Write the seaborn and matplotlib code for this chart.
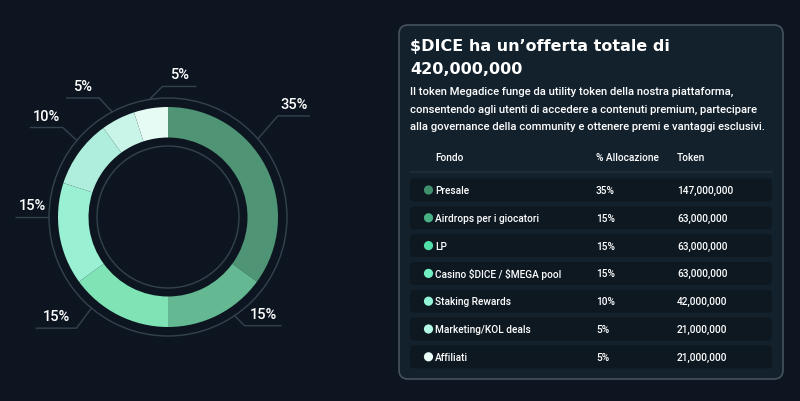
import numpy as np
import matplotlib
matplotlib.use("Agg")
import matplotlib.pyplot as plt
from matplotlib.patches import FancyBboxPatch, Circle
import seaborn as sns

# ---------------- data ----------------
fund_names = ["Presale", "Airdrops per i giocatori", "LP", "Casino $DICE / $MEGA pool",
              "Staking Rewards", "Marketing/KOL deals", "Affiliati"]
alloc_pct = [35, 15, 15, 15, 10, 5, 5]
token_amounts = ["147,000,000", "63,000,000", "63,000,000", "63,000,000",
                 "42,000,000", "21,000,000", "21,000,000"]
ring_colors = ["#4f9474", "#64b993", "#7fe3b6", "#9af0d2", "#afeedc", "#c8f5e8", "#e6fbf4"]
dot_colors = ["#3f8f6d", "#47b085", "#52e0aa", "#72f0c3", "#92f5d7", "#b3f8e4", "#eafdf6"]
title_lines = ["$DICE ha un\u2019offerta totale di", "420,000,000"]
body_lines = ["Il token Megadice funge da utility token della nostra piattaforma,",
              "consentendo agli utenti di accedere a contenuti premium, partecipare",
              "alla governance della community e ottenere premi e vantaggi esclusivi."]
header_labels = ["Fondo", "% Allocazione", "Token"]

# ---------------- style ----------------
sns.set_theme(style="dark")
plt.rcParams["font.family"] = ["Roboto", "DejaVu Sans"]
plt.rcParams["text.parse_math"] = False
BG = "#0d1620"
PANEL = "#13212d"
ROW = "#0d1821"
LINE = "#34424f"
W, H = 800, 402

fig = plt.figure(figsize=(8, 4.02), dpi=100, facecolor=BG)
ax = fig.add_axes([0, 0, 1, 1])
ax.set_facecolor(BG)

def Y(y):
    return H - y

# ---------------- donut ----------------
cx, cy = 168, Y(218)
r_out, r_in = 110, 79.5
wedges, _ = ax.pie(alloc_pct, colors=ring_colors, startangle=90, counterclock=False,
                   center=(cx, cy), radius=r_out, frame=True,
                   wedgeprops=dict(width=r_out - r_in, edgecolor="none", linewidth=0))
ax.set_xlim(0, W)
ax.set_ylim(0, H)
ax.set_aspect("equal")
ax.axis("off")
for rr in (119, 71):
    ax.add_patch(Circle((cx, cy), rr, fill=False, edgecolor=LINE, linewidth=1.0, zorder=3))

# leader lines and labels (layout only)
angle_nudge = [-14, -7, 13, 9, 4, -1, 0]          # degrees, clockwise from top
elbow_off = [(20, 23), (10, -10), (-15, -20), (0, 0), (-14, 13), (-13, 14), (13, 13)]
side = [1, 1, -1, -1, -1, -1, 1]
hlen = [32, 37, 41, 34, 33, 33, 34]
for i, (w, p) in enumerate(zip(wedges, alloc_pct)):
    mid = (w.theta1 + w.theta2) / 2.0
    ang = np.deg2rad(mid - angle_nudge[i])
    x0, y0 = cx + 119 * np.cos(ang), cy + 119 * np.sin(ang)
    x1, y1 = x0 + elbow_off[i][0], y0 + elbow_off[i][1]
    x2 = x1 + side[i] * hlen[i]
    ax.plot([x0, x1, x2], [y0, y1, y1], color=LINE, lw=1.0, zorder=3,
            solid_capstyle="butt")
    ax.text((x1 + x2) / 2, y1 + 5, f"{p}%", color="white", fontsize=10.5,
            fontweight="medium", ha="center", va="bottom", zorder=4)

# ---------------- panel ----------------
px0, py0, px1, py1 = 399, 26, 783, 380
ax.add_patch(FancyBboxPatch((px0, Y(py1)), px1 - px0, py1 - py0,
                            boxstyle="round,pad=0,rounding_size=9",
                            facecolor=PANEL, edgecolor="#46525e", linewidth=1.2, zorder=1))

for k, t in enumerate(title_lines):
    ax.text(410, Y(47 + k * 22), t, color="white", fontsize=11.5, fontweight="bold",
            family=["DejaVu Sans"], ha="left", va="center", zorder=4)
for k, t in enumerate(body_lines):
    ax.text(410, Y(92 + k * 17.5), t, color="white", fontsize=8.1, fontweight="medium",
            ha="left", va="center", zorder=4)

# table header
hx = [435, 596, 677]
for x, t in zip(hx, header_labels):
    ax.text(x, Y(158), t, color="white", fontsize=7.3, fontweight="medium",
            ha="left", va="center", zorder=4)
ax.plot([410, 772], [Y(173), Y(173)], color="#1c2c39", lw=1.5, zorder=2)

# rows
row_y0, row_step = 191, 27.8
for i, (name, p, tok) in enumerate(zip(fund_names, alloc_pct, token_amounts)):
    yc = row_y0 + i * row_step
    ax.add_patch(FancyBboxPatch((410, Y(yc + 11.5)), 362, 23,
                                boxstyle="round,pad=0,rounding_size=4",
                                facecolor=ROW, edgecolor="none", zorder=2))
    ax.add_patch(Circle((428.5, Y(yc)), 4.6, facecolor=dot_colors[i],
                        edgecolor="none", zorder=3))
    for x, t in zip(hx, [name, f"{p}%", tok]):
        ax.text(x, Y(yc), t, color="white", fontsize=7.3, fontweight="medium",
                ha="left", va="center", zorder=4)

fig.savefig("out.png", dpi=100, facecolor=BG)
